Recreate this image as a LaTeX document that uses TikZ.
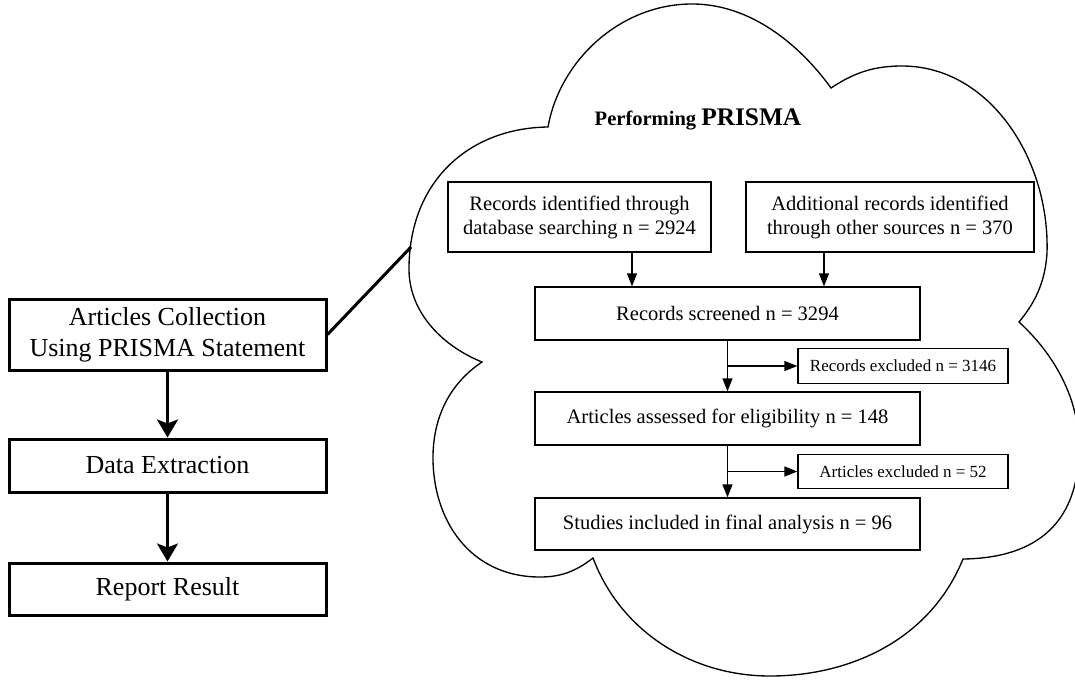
\documentclass[tikz,border=0pt]{standalone}
\usepackage{fontspec}
\setmainfont{Liberation Serif}
\usetikzlibrary{arrows.meta,calc}
\begin{document}
\begin{tikzpicture}[x=0.75pt,y=-0.75pt,
  lbox/.style={draw,line width=2.25pt,minimum width=237.75pt,inner sep=0pt,align=center,font=\fontsize{19.5}{23.25}\selectfont},
  flowbox/.style={draw,line width=0.9pt,inner sep=0pt,align=center,font=\fontsize{15.4}{18}\selectfont},
  xbox/.style={flowbox,minimum width=157.5pt,minimum height=26pt,font=\fontsize{12.75}{15}\selectfont},
  farr/.style={line width=0.9pt,-{Triangle[length=9.75pt,width=7.5pt]}},
  larr/.style={line width=2.25pt,-{Stealth[length=13.5pt,width=15.75pt,inset=3pt]}},
  cloudline/.style={line width=1pt,line join=miter}
]
\useasboundingbox (0,0) rectangle (1075,679);

% cloud
\draw[cloudline]
  (548,127) .. controls (560,60) and (620,5) .. (690,4)
  .. controls (750,3) and (800,45) .. (831,88)
  .. controls (855,72) and (875,66) .. (902,66)
  .. controls (990,66) and (1050,160) .. (1047,253)
  .. controls (1045,285) and (1033,305) .. (1019,322)
  .. controls (1055,355) and (1080,400) .. (1079,450)
  .. controls (1078,520) and (1040,558) .. (963,559)
  .. controls (930,640) and (850,676) .. (770,676)
  .. controls (690,676) and (620,630) .. (593,558)
  .. controls (575,572) and (560,577) .. (540,577)
  .. controls (470,577) and (432,520) .. (433,455)
  .. controls (434,410) and (455,380) .. (482,362)
  .. controls (440,345) and (408,310) .. (409,267)
  .. controls (410,180) and (470,128) .. (548,127)
  -- cycle;

\node[anchor=base,font=\bfseries] (title) at (698,125) {\fontsize{15.4}{18}\selectfont Performing \fontsize{19}{22}\selectfont PRISMA};

% left chain
\node[lbox,minimum height=53.25pt] (A) at (167.5,334.5) {Articles Collection\\Using PRISMA Statement};
\node[lbox,minimum height=39.75pt] (D) at (167.5,465.5) {Data Extraction};
\node[lbox,minimum height=39pt] (R) at (167.5,589) {Report Result};
\draw[larr] (A) -- (D);
\draw[larr] (D) -- (R);
\coordinate (cl) at (411,247);
\draw[line width=2.25pt] (A.east) -- (cl);

% flowchart
\node[flowbox,minimum width=197.25pt,minimum height=52.5pt] (RI) at (579.5,217) {Records identified through\\database searching n = 2924};
\node[flowbox,minimum width=216pt,minimum height=52.5pt] (AR) at (890,217) {Additional records identified\\through other sources n = 370};
\node[flowbox,minimum width=288.75pt,minimum height=39.75pt] (RS) at (727.5,313.5) {Records screened n = 3294};
\node[xbox] (RE) at (903,366) {Records excluded n = 3146};
\node[flowbox,minimum width=288.75pt,minimum height=39.75pt] (AA) at (727.5,418.5) {Articles assessed for eligibility n = 148};
\node[xbox] (AE) at (903,471.5) {Articles excluded n = 52};
\node[flowbox,minimum width=288.75pt,minimum height=39pt] (SI) at (727.5,524) {Studies included in final analysis n = 96};

\coordinate (x1) at (632,0);
\coordinate (x2) at (824,0);
\draw[farr] (RI.south -| x1) -- (RS.north -| x1);
\draw[farr] (AR.south -| x2) -- (RS.north -| x2);
\draw[farr] (RS) -- (AA);
\draw[farr] (RS.south |- RE.west) -- (RE.west);
\draw[farr] (AA) -- (SI);
\draw[farr] (AA.south |- AE.west) -- (AE.west);
\end{tikzpicture}
\end{document}
